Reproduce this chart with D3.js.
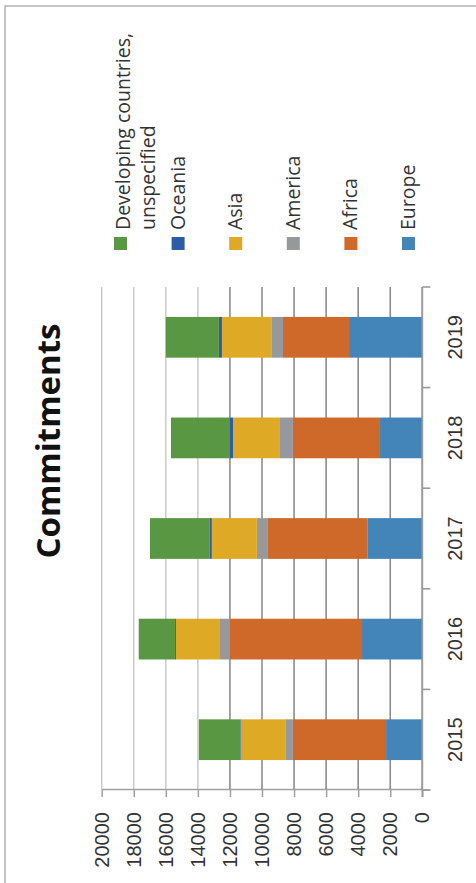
<!DOCTYPE html>
<html>
<head>
<meta charset="utf-8">
<script src="https://cdn.jsdelivr.net/npm/d3@7"></script>
<style>
  body { margin: 0; background: #fff; }
  svg { display: block; }
</style>
</head>
<body>
<svg></svg>
<script>
// chart data
const years = ['2015', '2016', '2017', '2018', '2019'];
const seriesNames = ['Europe', 'Africa', 'America', 'Asia', 'Oceania', 'Developing countries, unspecified'];
const europe = [2260, 3760, 3430, 2640, 4570];
const africa = [5810, 8240, 6200, 5430, 4120];
const america = [440, 620, 690, 810, 690];
const asia = [2810, 2750, 2810, 2930, 3120];
const oceania = [40, 60, 120, 190, 190];
const developing = [2580, 2260, 3740, 3680, 3310];
const valueTicks = [0, 2000, 4000, 6000, 8000, 10000, 12000, 14000, 16000, 18000, 20000];
const colors = ['#4485b9', '#cf6929', '#97989b', '#dea925', '#2c5ca8', '#5a9742'];

const width = 476;
const height = 883;

const svg = d3.select('svg').attr('width', width).attr('height', height);

// the whole chart is drawn upright and turned a quarter turn
const g = svg.append('g').attr('transform', 'translate(0,' + height + ') rotate(-90)');

// outer border
g.append('rect')
  .attr('x', -10).attr('y', 5)
  .attr('width', 887).attr('height', 500)
  .attr('fill', 'none').attr('stroke', '#a6a6a6').attr('stroke-width', 1.3);

const rows = years.map((y, i) => ({
  year: y,
  'Europe': europe[i],
  'Africa': africa[i],
  'America': america[i],
  'Asia': asia[i],
  'Oceania': oceania[i],
  'Developing countries, unspecified': developing[i],
}));

const stacked = d3.stack().keys(seriesNames)(rows);

const xScale = d3.scaleBand().domain(years).range([93, 596]).paddingInner(0.595).paddingOuter(0.2975);
const yScale = d3.scaleLinear().domain([0, 20000]).range([422.3, 101.7]);

// gridlines
g.append('g')
  .selectAll('line')
  .data(valueTicks)
  .enter()
  .append('line')
  .attr('x1', 93).attr('x2', 596)
  .attr('y1', (d) => yScale(d)).attr('y2', (d) => yScale(d))
  .attr('stroke', (d) => (d <= 12000 ? '#8c8c8c' : '#bdbdbd'))
  .attr('stroke-width', (d) => (d <= 12000 ? 1.6 : 1.2));

// bars
g.append('g')
  .selectAll('g')
  .data(stacked)
  .enter()
  .append('g')
  .attr('fill', (d, i) => colors[i])
  .selectAll('rect')
  .data((d) => d)
  .enter()
  .append('rect')
  .attr('x', (d) => xScale(d.data.year))
  .attr('width', xScale.bandwidth())
  .attr('y', (d) => yScale(d[1]))
  .attr('height', (d) => yScale(d[0]) - yScale(d[1]));

// value axis
const yAxis = d3.axisLeft(yScale)
  .tickValues(valueTicks)
  .tickFormat(d3.format('d'))
  .tickSize(7)
  .tickSizeOuter(0)
  .tickPadding(15);
const yAxisG = g.append('g').attr('transform', 'translate(93,0)').call(yAxis);
yAxisG.select('.domain').attr('stroke', '#a0a0a0').attr('stroke-width', 1.5);
yAxisG.selectAll('.tick line').attr('stroke', '#a0a0a0').attr('stroke-width', 1.5);
yAxisG.selectAll('text')
  .attr('font-family', 'Liberation Sans, Arial, sans-serif')
  .attr('font-size', 20)
  .attr('fill', '#333');
yAxisG.append('line')
  .attr('x1', 0).attr('x2', 0)
  .attr('y1', yScale(0)).attr('y2', yScale(0) + 8)
  .attr('stroke', '#a0a0a0').attr('stroke-width', 1.5);

// category axis
const step = xScale.step();
const catG = g.append('g');
catG.append('line')
  .attr('x1', 86).attr('x2', 596)
  .attr('y1', yScale(0)).attr('y2', yScale(0))
  .attr('stroke', '#9a9a9a').attr('stroke-width', 1.6);
catG.selectAll('line.tick')
  .data(d3.range(years.length + 1))
  .enter()
  .append('line')
  .attr('class', 'tick')
  .attr('x1', (i) => 93 + i * step).attr('x2', (i) => 93 + i * step)
  .attr('y1', yScale(0)).attr('y2', yScale(0) + 8)
  .attr('stroke', '#9a9a9a').attr('stroke-width', 1.6);
catG.selectAll('text')
  .data(years)
  .enter()
  .append('text')
  .attr('x', (d) => xScale(d) + xScale.bandwidth() / 2)
  .attr('y', 462)
  .attr('text-anchor', 'middle')
  .attr('font-family', 'Liberation Sans, Arial, sans-serif')
  .attr('font-size', 20)
  .attr('fill', '#333')
  .text((d) => d);

// title
g.append('text')
  .attr('x', 442).attr('y', 60)
  .attr('text-anchor', 'middle')
  .attr('font-family', 'Open Sans, sans-serif')
  .attr('font-weight', 'bold')
  .attr('font-size', 33)
  .attr('fill', '#111')
  .text('Commitments');

// legend, top entry first
const legendItems = seriesNames.map((n, i) => ({ name: n, color: colors[i] })).reverse();
const legend = g.append('g');
const item = legend.selectAll('g')
  .data(legendItems)
  .enter()
  .append('g')
  .attr('transform', (d, i) => 'translate(633,' + (114 + i * 57.6) + ')');
item.append('rect')
  .attr('width', 13).attr('height', 13)
  .attr('fill', (d) => d.color);
item.append('text')
  .attr('x', 20)
  .attr('font-family', 'Open Sans, sans-serif')
  .attr('font-size', 19.5)
  .attr('fill', '#333')
  .each(function (d, i) {
    const t = d3.select(this);
    if (i === 0) {
      t.append('tspan').attr('x', 20).attr('y', 16).text('Developing countries,');
      t.append('tspan').attr('x', 20).attr('y', 41).text('unspecified');
    } else {
      t.attr('y', 13).text(d.name);
    }
  });
</script>
</body>
</html>
